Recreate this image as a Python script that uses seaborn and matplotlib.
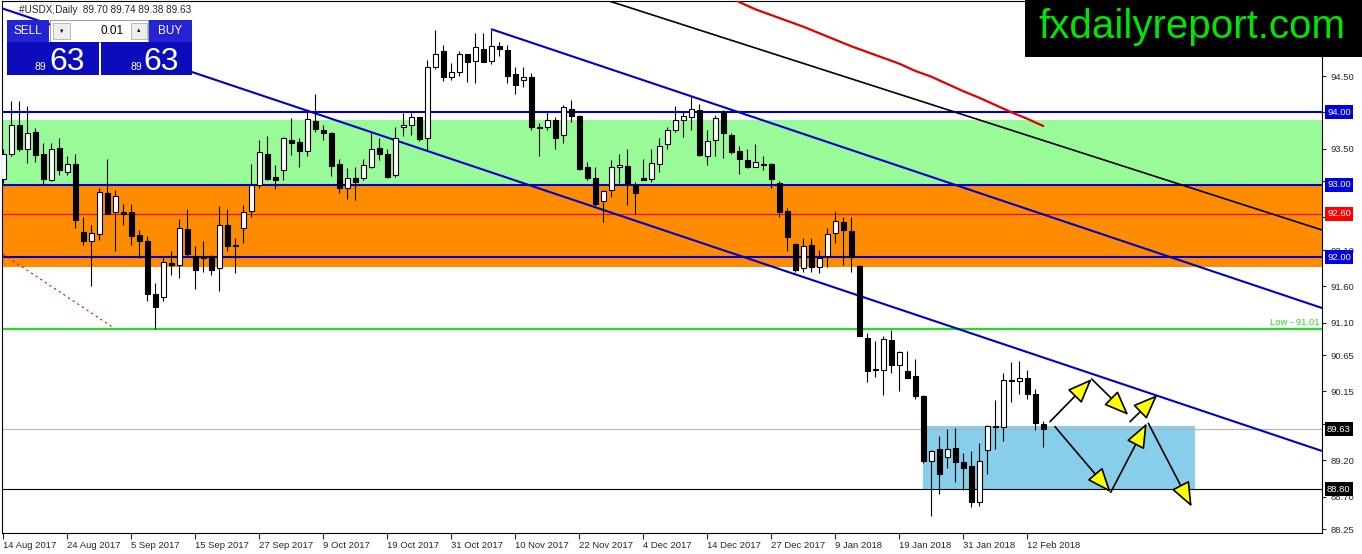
import numpy as np
import pandas as pd
import matplotlib
matplotlib.use("Agg")
import matplotlib.pyplot as plt
import matplotlib.transforms as mtransforms
from matplotlib.patches import Rectangle, FancyArrowPatch
import seaborn as sns

sns.set_style("white")
plt.rcParams['font.family'] = ['Liberation Sans', 'DejaVu Sans']

# --- #USDX daily candles, 14 Aug 2017 .. 15 Feb 2018 ---
opens = [93.08, 93.42, 93.82, 93.50, 93.73, 93.43, 93.06, 93.51, 93.17, 93.29,
         92.35, 92.23, 92.32, 92.89, 92.62, 92.63, 92.62, 92.31, 92.22, 91.50,
         91.45, 91.92, 91.90, 92.39, 92.02, 92.00, 92.00, 91.85, 92.45, 92.17,
         92.41, 92.64, 92.99, 93.43, 93.11, 93.21, 93.62, 93.59, 93.46, 93.88,
         93.76, 93.72, 93.29, 92.95, 93.10, 93.09, 93.25, 93.51, 93.42, 93.13,
         93.79, 93.82, 93.93, 93.64, 94.62, 94.84, 94.48, 94.55, 94.80, 94.71,
         94.87, 94.71, 94.92, 94.86, 94.53, 94.44, 94.48, 93.79, 93.79, 93.89,
         93.69, 94.05, 93.95, 93.24, 93.10, 92.78, 92.93, 93.24, 93.26, 93.00,
         93.10, 93.08, 93.29, 93.56, 93.76, 93.90, 93.93, 94.03, 93.40, 93.62,
         94.01, 93.69, 93.47, 93.34, 93.25, 93.28, 93.29, 93.03, 92.64, 92.18,
         91.85, 92.17, 91.86, 92.02, 92.33, 92.48, 92.36, 91.88, 90.88, 90.46,
         90.45, 90.86, 90.52, 90.43, 90.36, 90.09, 89.19, 89.36, 89.24, 89.37,
         89.17, 89.12, 88.62, 89.34, 89.66, 89.66, 90.31, 90.30, 90.34, 90.12,
         89.70]
highs = [93.50, 94.15, 94.16, 94.09, 93.78, 93.57, 93.57, 93.64, 93.39, 93.43,
         92.56, 92.45, 92.95, 93.36, 92.93, 92.74, 92.74, 92.38, 92.30, 91.65,
         92.00, 92.09, 92.53, 92.66, 92.16, 92.22, 92.03, 92.71, 92.66, 92.26,
         92.72, 93.28, 93.62, 93.67, 93.27, 93.66, 93.92, 93.64, 94.01, 94.25,
         93.82, 93.73, 93.36, 93.23, 93.25, 93.35, 93.72, 93.64, 93.49, 93.79,
         93.99, 93.99, 93.94, 94.72, 95.14, 94.93, 94.68, 94.85, 94.81, 95.09,
         95.09, 95.13, 94.97, 94.93, 94.63, 94.63, 94.54, 93.85, 94.00, 93.94,
         94.10, 94.17, 93.96, 93.32, 93.24, 92.93, 93.34, 93.43, 93.50, 93.04,
         93.36, 93.49, 93.64, 93.80, 94.09, 94.00, 94.21, 94.11, 93.76, 93.96,
         94.03, 93.71, 93.54, 93.50, 93.56, 93.39, 93.30, 93.05, 92.68, 92.19,
         92.26, 92.26, 92.10, 92.40, 92.64, 92.56, 92.55, 91.89, 90.96, 90.84,
         90.91, 91.00, 90.71, 90.71, 90.59, 90.10, 89.34, 89.53, 89.63, 89.65,
         89.30, 89.33, 89.44, 89.69, 90.03, 90.41, 90.56, 90.57, 90.44, 90.18,
         89.74]
lows = [93.03, 93.40, 93.47, 93.30, 93.32, 93.01, 93.05, 93.14, 93.14, 92.40,
        92.17, 91.61, 92.24, 92.59, 92.09, 92.45, 92.17, 91.99, 91.39, 91.01,
        91.39, 91.76, 91.71, 92.02, 91.56, 91.80, 91.75, 91.53, 92.09, 91.78,
        92.20, 92.55, 92.95, 93.07, 92.94, 93.07, 93.41, 93.25, 93.40, 93.73,
        93.62, 93.12, 92.89, 92.80, 92.79, 93.06, 93.23, 93.34, 93.10, 93.11,
        93.67, 93.69, 93.61, 93.48, 94.59, 94.43, 94.44, 94.50, 94.42, 94.41,
        94.69, 94.67, 94.77, 94.41, 94.25, 94.35, 93.76, 93.39, 93.76, 93.50,
        93.57, 93.87, 93.20, 93.07, 92.70, 92.49, 92.83, 93.02, 92.72, 92.60,
        93.06, 93.04, 93.17, 93.49, 93.73, 93.66, 93.76, 93.39, 93.27, 93.40,
        93.37, 93.42, 93.15, 93.23, 93.24, 93.20, 92.95, 92.56, 92.08, 91.79,
        91.80, 91.79, 91.78, 91.87, 92.19, 91.90, 91.79, 90.91, 90.28, 90.35,
        90.10, 90.41, 90.16, 90.34, 90.05, 89.16, 88.43, 88.74, 89.09, 88.90,
        88.79, 88.56, 88.57, 89.01, 89.36, 89.47, 90.01, 90.12, 90.05, 89.62,
        89.38]
closes = [93.42, 93.83, 93.49, 93.71, 93.41, 93.08, 93.49, 93.20, 93.28, 92.51,
          92.23, 92.33, 92.90, 92.60, 92.85, 92.60, 92.30, 92.23, 91.50, 91.31,
          91.93, 91.89, 92.40, 92.04, 91.82, 91.99, 91.83, 92.45, 92.15, 92.15,
          92.63, 92.99, 93.45, 93.08, 93.06, 93.64, 93.57, 93.47, 93.91, 93.77,
          93.72, 93.26, 92.96, 93.10, 93.04, 93.27, 93.49, 93.43, 93.11, 93.65,
          93.83, 93.93, 93.63, 94.63, 94.80, 94.48, 94.55, 94.80, 94.70, 94.90,
          94.70, 94.91, 94.87, 94.50, 94.37, 94.49, 93.80, 93.78, 93.90, 93.65,
          94.07, 93.95, 93.22, 93.10, 92.74, 92.91, 93.25, 93.27, 93.01, 92.88,
          93.07, 93.30, 93.54, 93.76, 93.89, 93.95, 94.04, 93.41, 93.61, 93.92,
          93.72, 93.45, 93.35, 93.25, 93.31, 93.27, 93.08, 92.63, 92.28, 91.83,
          92.15, 91.86, 91.99, 92.32, 92.50, 92.38, 92.01, 90.92, 90.43, 90.45,
          90.87, 90.52, 90.69, 90.34, 90.08, 89.19, 89.33, 89.01, 89.35, 89.18,
          89.10, 88.63, 89.19, 89.67, 89.66, 90.31, 90.29, 90.33, 90.12, 89.71,
          89.63]

date_labels = ['14 Aug 2017', '24 Aug 2017', '5 Sep 2017', '15 Sep 2017', '27 Sep 2017',
               '9 Oct 2017', '19 Oct 2017', '31 Oct 2017', '10 Nov 2017', '22 Nov 2017',
               '4 Dec 2017', '14 Dec 2017', '27 Dec 2017', '9 Jan 2018', '19 Jan 2018',
               '31 Jan 2018', '12 Feb 2018']
price_ticks = [94.50, 94.00, 93.50, 93.05, 92.55, 92.10, 91.60, 91.10, 90.65,
               90.15, 89.70, 89.20, 88.70, 88.25]
# tick values that sit under a price box on the right scale
hidden_ticks = [94.00, 93.05, 92.55, 89.70]

# red moving average (only the part inside the window)
ma_index = [90, 92, 94, 96, 98, 100, 102, 104, 106, 108, 110,
            112, 114, 116, 118, 120, 122, 124, 126, 128, 130]
ma_values = [95.63, 95.52, 95.42, 95.34, 95.26, 95.18, 95.09, 95.00, 94.91, 94.83, 94.75,
             94.67, 94.57, 94.49, 94.39, 94.29, 94.20, 94.10, 94.00, 93.91, 93.81]

# drawn objects: trend lines as (bar index, price) pairs
channel_low = [(-0.2, 95.435), (164.84, 89.328)]
channel_high = [(61.05, 95.144), (164.84, 91.30)]
black_trend = [(75.0, 95.56), (164.84, 92.376)]
red_dashed = [(0.0, 92.04), (13.75, 91.03)]

green_zone = (93.00, 93.90)
orange_zone = (91.87, 93.00)
blue_levels = [94.00, 93.00, 92.00]
red_level = 92.60
low_level = 91.01
bid_level = 89.63
support_level = 88.80
target_box = (115, 149, 88.80, 89.67)

# scenario arrows (bar index, price)
arrows_up_path = [((130.84, 89.732), (136.05, 90.321)),
                  ((136.05, 90.321), (140.63, 89.824)),
                  ((140.84, 89.732), (144.25, 90.100))]
arrows_down_path = [((131.46, 89.663), (138.43, 88.758)),
                    ((138.43, 88.758), (142.93, 89.710)),
                    ((143.13, 89.710), (148.55, 88.559))]

# ---------------------------------------------------------------
W, H = 1362, 554
fig = plt.figure(figsize=(W / 100, H / 100), dpi=100)
ax = fig.add_axes([2 / W, 21 / H, 1320 / W, 532 / H])

df = pd.DataFrame({'open': opens, 'high': highs, 'low': lows, 'close': closes})
df['x'] = np.arange(len(df))
up = df['close'] >= df['open']
body_lo = df[['open', 'close']].min(axis=1)
body_h = (df['close'] - df['open']).abs().clip(lower=0.006)

# zones and levels
ax.axhspan(*green_zone, color='#98FB98', lw=0, zorder=0.5)
ax.axhspan(*orange_zone, color='#FF8C00', lw=0, zorder=0.5)
x0, x1, b0, b1 = target_box
ax.add_patch(Rectangle((x0, b0), x1 - x0, b1 - b0, fc='#87CEEB', ec='none', zorder=1))
for lv in blue_levels:
    ax.axhline(lv, color='#0000CD', lw=1.5, zorder=2)
ax.axhline(red_level, color='#FF0000', lw=0.8, zorder=2)
ax.axhline(low_level, color='#22DD22', lw=1.6, zorder=2)
ax.axhline(bid_level, color='#B4B4B4', lw=0.8, zorder=2)
ax.axhline(support_level, color='black', lw=0.8, zorder=2)

# trend lines
for seg, col, lw in [(channel_low, '#0000CD', 1.5), (channel_high, '#0000CD', 1.5),
                     (black_trend, 'black', 1.2)]:
    ax.plot([seg[0][0], seg[1][0]], [seg[0][1], seg[1][1]], color=col, lw=lw, zorder=3)
ax.plot([red_dashed[0][0], red_dashed[1][0]], [red_dashed[0][1], red_dashed[1][1]],
        color='#D01010', lw=0.8, ls=(0, (2, 3)), zorder=3)
sns.lineplot(x=ma_index, y=ma_values, ax=ax, color='#E00000', lw=1.6, zorder=3, legend=False)

# candles
ax.vlines(df['x'], df['low'], df['high'], color='black', lw=0.8, zorder=4)
ax.bar(df['x'][up], body_h[up], bottom=body_lo[up], width=0.6,
       color='white', edgecolor='black', lw=0.8, zorder=5)
ax.bar(df['x'][~up], body_h[~up], bottom=body_lo[~up], width=0.6,
       color='black', edgecolor='black', lw=0.8, zorder=5)

# scenario arrows
for a, b in arrows_up_path + arrows_down_path:
    ax.add_patch(FancyArrowPatch(a, b, arrowstyle='-|>,head_length=0.55,head_width=0.22',
                                 mutation_scale=28, fc='#FFFF00', ec='black', lw=1.2,
                                 shrinkA=0, shrinkB=0, zorder=6))

# axes
ax.set_xlim(-0.1625, 164.8375)
ax.set_ylim(88.1966, 95.5345)
ax.yaxis.tick_right()
ax.set_yticks(price_ticks, ['' if v in hidden_ticks else f'{v:.2f}' for v in price_ticks])
ax.set_xticks(np.arange(len(date_labels)) * 8, date_labels)
for lab in ax.get_xticklabels():
    lab.set_ha('left')
ax.tick_params(axis='y', direction='out', length=3, width=0.8, pad=3, labelsize=6.8, right=True)
ax.tick_params(axis='x', direction='out', length=4, width=0.8, pad=2, labelsize=6.8, bottom=True)
for sp in ax.spines.values():
    sp.set_color('black')
    sp.set_linewidth(0.8)
ax.set_xlabel('')
ax.set_ylabel('')

trans = mtransforms.blended_transform_factory(ax.transAxes, ax.transData)
for val, fc in [(94.00, '#0000E0'), (93.00, '#0000E0'), (92.00, '#0000E0'),
                (92.60, '#FF0000'), (89.63, 'black'), (88.80, 'black')]:
    ax.text(1.0 + 5 / 1320, val, f'{val:.2f}', transform=trans, ha='left', va='center',
            color='white', fontsize=6.8, clip_on=False, zorder=10,
            bbox=dict(boxstyle='square,pad=0.25', fc=fc, ec='none'))
ax.text(1.0 - 2 / 1320, low_level + 0.03, 'Low - 91.01', transform=trans, ha='right',
        va='bottom', color='#22DD22', fontsize=6.8, zorder=10)


# one-click trading panel and header, in pixel coordinates
def px_rect(xa, ya, xb, yb, **kw):
    fig.add_artist(Rectangle((xa / W, 1 - yb / H), (xb - xa) / W, (yb - ya) / H,
                             transform=fig.transFigure, **kw))


def px_text(x, y, s, **kw):
    fig.text(x / W, 1 - y / H, s, **kw)


px_text(19, 10, '#USDX,Daily  89.70 89.74 89.38 89.63', fontsize=7.2, va='center', zorder=20)

px_rect(7, 20, 49, 42, fc='#2424D4', ec='none', zorder=20)
px_text(28, 30.5, 'SELL', color='white', fontsize=8.5, ha='center', va='center', zorder=21)
px_rect(50, 20, 148, 42, fc='white', ec='#8A8A8A', lw=0.6, zorder=20)
px_rect(53, 23, 70, 39, fc='#EEEEEE', ec='#B0B0B0', lw=0.6, zorder=21)
px_text(61.5, 31, '\u25BC', color='black', fontsize=4, ha='center', va='center', zorder=22)
px_text(124, 31, '0.01', color='black', fontsize=8.5, ha='right', va='center', zorder=22)
px_rect(131, 23, 147, 39, fc='#EEEEEE', ec='#B0B0B0', lw=0.6, zorder=21)
px_text(139, 31, '\u25B2', color='black', fontsize=4, ha='center', va='center', zorder=22)
px_rect(149, 20, 192, 42, fc='#2424D4', ec='none', zorder=20)
px_text(170.5, 30.5, 'BUY', color='white', fontsize=8.5, ha='center', va='center', zorder=21)

px_rect(7, 42, 99, 75, fc='#0C0CBC', ec='none', zorder=20)
px_rect(101, 42, 192, 75, fc='#0C0CBC', ec='none', zorder=20)
px_text(46, 70, '89', color='white', fontsize=7.5, ha='right', va='baseline', zorder=21)
px_text(49, 70, '63', color='white', fontsize=23, ha='left', va='baseline', zorder=21)
px_text(142, 70, '89', color='white', fontsize=7.5, ha='right', va='baseline', zorder=21)
px_text(143, 70, '63', color='white', fontsize=23, ha='left', va='baseline', zorder=21)

px_rect(1025, 0, 1362, 57, fc='black', ec='none', zorder=20)
px_text(1192, 27, 'fxdailyreport.com', color='#00E600', fontsize=29, ha='center',
        va='center', zorder=21)

fig.savefig('out.png', dpi=100)
